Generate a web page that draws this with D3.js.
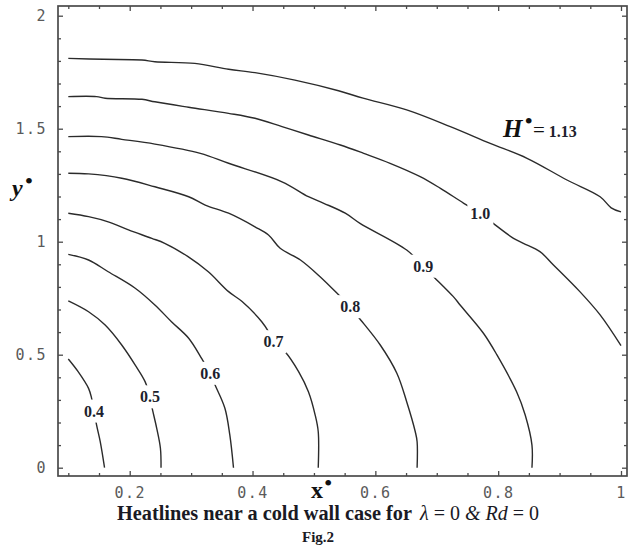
<!DOCTYPE html>
<html>
<head>
<meta charset="utf-8">
<script src="https://cdn.jsdelivr.net/npm/d3@7"></script>
<style>
  body { margin: 0; background: #fff; }
  svg { display: block; }
</style>
</head>
<body>
<svg id="chart" width="632" height="546"></svg>
<script>
// Heatline levels H* and traced points (x*, y*) for each line
const levelText = ["0.4", "0.5", "0.6", "0.7", "0.8", "0.9", "1.0"];

const h040 = [[0.100,0.481],[0.116,0.425],[0.133,0.351],[0.138,0.307],[0.142,0.251],[0.146,0.189],[0.152,0.115],[0.159,0.000]];
const h050 = [[0.100,0.738],[0.133,0.690],[0.160,0.631],[0.187,0.543],[0.209,0.454],[0.225,0.381],[0.233,0.314],[0.236,0.270],[0.244,0.174],[0.250,0.086],[0.251,0.000]];
const h060 = [[0.100,0.944],[0.133,0.919],[0.165,0.867],[0.209,0.794],[0.241,0.720],[0.268,0.646],[0.296,0.573],[0.317,0.484],[0.331,0.418],[0.339,0.366],[0.355,0.263],[0.363,0.145],[0.369,0.000]];
const h070 = [[0.100,1.126],[0.133,1.111],[0.165,1.088],[0.198,1.052],[0.236,1.015],[0.257,0.993],[0.295,0.934],[0.328,0.867],[0.361,0.779],[0.383,0.735],[0.415,0.646],[0.426,0.602],[0.434,0.558],[0.453,0.513],[0.475,0.425],[0.491,0.336],[0.502,0.233],[0.507,0.159],[0.507,0.000]];
const h080 = [[0.100,1.303],[0.133,1.300],[0.187,1.281],[0.241,1.243],[0.296,1.199],[0.323,1.162],[0.361,1.126],[0.404,1.066],[0.426,1.030],[0.445,0.971],[0.478,0.919],[0.510,0.845],[0.543,0.757],[0.559,0.713],[0.572,0.668],[0.608,0.543],[0.635,0.418],[0.651,0.292],[0.665,0.159],[0.668,0.115],[0.668,0.000]];
const h090 = [[0.100,1.465],[0.154,1.465],[0.187,1.453],[0.241,1.432],[0.315,1.391],[0.361,1.347],[0.448,1.265],[0.491,1.199],[0.516,1.170],[0.551,1.126],[0.575,1.081],[0.651,0.963],[0.678,0.892],[0.692,0.853],[0.727,0.757],[0.738,0.720],[0.776,0.595],[0.798,0.499],[0.830,0.336],[0.844,0.233],[0.855,0.100],[0.855,0.000]];
const h100 = [[0.100,1.642],[0.146,1.642],[0.160,1.635],[0.220,1.630],[0.241,1.619],[0.296,1.595],[0.361,1.568],[0.404,1.546],[0.448,1.509],[0.491,1.472],[0.543,1.428],[0.581,1.391],[0.624,1.347],[0.673,1.288],[0.706,1.236],[0.744,1.170],[0.771,1.126],[0.792,1.081],[0.825,1.015],[0.841,0.993],[0.868,0.956],[0.890,0.897],[0.933,0.779],[0.966,0.676],[1.000,0.540]];
const h113 = [[0.100,1.811],[0.157,1.807],[0.220,1.804],[0.241,1.796],[0.306,1.789],[0.361,1.763],[0.404,1.748],[0.469,1.715],[0.540,1.668],[0.580,1.635],[0.651,1.583],[0.722,1.509],[0.787,1.435],[0.847,1.369],[0.912,1.273],[0.966,1.199],[0.984,1.150],[1.000,1.132]];

// where each level's value is written on its line
const labelPoints = [[0.142,0.251],[0.233,0.314],[0.331,0.418],[0.434,0.558],[0.559,0.713],[0.678,0.892],[0.771,1.126]];
// outer line annotation anchor (x*, y*)
const outerLevel = "1.13";
const outerAnchor = [0.808, 1.463];

const xMajor = [0.2, 0.4, 0.6, 0.8, 1];
const xMajorText = ["0.2", "0.4", "0.6", "0.8", "1"];
const yMajor = [0, 0.5, 1, 1.5, 2];
const yMajorText = ["0", "0.5", "1", "1.5", "2"];

const curves = [h040, h050, h060, h070, h080, h090, h100, h113];

const svg = d3.select("#chart");
const frame = { left: 58, right: 627, top: 6, bottom: 476 };

const x = d3.scaleLinear().domain([0.1, 1]).range([68.3, 621]);
const y = d3.scaleLinear().domain([0, 2]).range([467.7, 15.7]);

const xMinor = d3.range(0.1, 1.0001, 0.05).filter(v => !xMajor.some(m => Math.abs(m - v) < 1e-6));
const yMinor = d3.range(0.1, 2.0001, 0.1).filter(v => !yMajor.some(m => Math.abs(m - v) < 1e-6));

const frameColor = "#4a4a4a";
const tickFont = "'DejaVu Sans Mono', monospace";
const serif = "'Liberation Serif', 'Times New Roman', serif";

// heatlines
const line = d3.line().x(d => x(d[0])).y(d => y(d[1])).curve(d3.curveCatmullRom.alpha(0.5));
svg.append("g").selectAll("path").data(curves).join("path")
  .attr("d", line)
  .attr("fill", "none")
  .attr("stroke", "#2b2b2b")
  .attr("stroke-width", 1.4);

// inline level labels with a white gap cut into the line
const lab = svg.append("g").selectAll("g").data(labelPoints).join("g")
  .attr("transform", d => `translate(${x(d[0])},${y(d[1])})`);
lab.append("rect").attr("fill", "#fff");
lab.append("text")
  .text((d, i) => levelText[i])
  .attr("text-anchor", "middle")
  .attr("dy", "0.35em")
  .attr("font-family", serif)
  .attr("font-weight", "bold")
  .attr("font-size", 16)
  .attr("fill", "#1d1f2e");
lab.each(function () {
  const g = d3.select(this);
  const b = g.select("text").node().getBBox();
  g.select("rect")
    .attr("x", b.x - 3).attr("y", b.y - 3)
    .attr("width", b.width + 6).attr("height", b.height + 6);
});

// frame
svg.append("rect")
  .attr("x", frame.left).attr("y", frame.top)
  .attr("width", frame.right - frame.left).attr("height", frame.bottom - frame.top)
  .attr("fill", "none").attr("stroke", frameColor).attr("stroke-width", 1.7);

function styleAxis(g) {
  g.select(".domain").remove();
  g.selectAll(".tick line").attr("stroke", frameColor).attr("stroke-width", 1.3);
  g.selectAll(".tick text")
    .attr("font-family", tickFont)
    .attr("font-size", 15)
    .attr("letter-spacing", "1.5px")
    .attr("fill", "#5a5a5a");
}

// bottom / top
svg.append("g").attr("transform", `translate(0,${frame.bottom})`)
  .call(d3.axisBottom(x).tickValues(xMinor).tickSize(-3).tickFormat("")).call(styleAxis);
svg.append("g").attr("transform", `translate(0,${frame.bottom})`)
  .call(d3.axisBottom(x).tickValues(xMajor).tickSize(-5).tickPadding(11)
    .tickFormat((d, i) => xMajorText[i])).call(styleAxis);
svg.append("g").attr("transform", `translate(0,${frame.top})`)
  .call(d3.axisTop(x).tickValues(xMinor).tickSize(-3).tickFormat("")).call(styleAxis);
svg.append("g").attr("transform", `translate(0,${frame.top})`)
  .call(d3.axisTop(x).tickValues(xMajor).tickSize(-5).tickFormat("")).call(styleAxis);

// left / right
svg.append("g").attr("transform", `translate(${frame.left},0)`)
  .call(d3.axisLeft(y).tickValues(yMinor).tickSize(-3).tickFormat("")).call(styleAxis);
svg.append("g").attr("transform", `translate(${frame.left},0)`)
  .call(d3.axisLeft(y).tickValues(yMajor).tickSize(-5).tickPadding(11)
    .tickFormat((d, i) => yMajorText[i])).call(styleAxis);
svg.append("g").attr("transform", `translate(${frame.right},0)`)
  .call(d3.axisRight(y).tickValues(yMinor).tickSize(-3).tickFormat("")).call(styleAxis);
svg.append("g").attr("transform", `translate(${frame.right},0)`)
  .call(d3.axisRight(y).tickValues(yMajor).tickSize(-5).tickFormat("")).call(styleAxis);

// outer heatline annotation: H* = 1.13
const ann = svg.append("text")
  .attr("x", x(outerAnchor[0])).attr("y", y(outerAnchor[1]))
  .attr("font-family", serif)
  .attr("fill", "#111");
ann.append("tspan").text("H").attr("font-weight", "bold").attr("font-style", "italic").attr("font-size", 25);
ann.append("tspan").text("•").attr("font-size", 24).attr("dy", -8).attr("dx", 2);
ann.append("tspan").text("=").attr("font-size", 21).attr("dy", 8).attr("dx", 0);
ann.append("tspan").text(" " + outerLevel).attr("font-weight", "bold").attr("font-size", 16).attr("fill", "#1d1f2e");

// axis titles
const xt = svg.append("text").attr("x", 311).attr("y", 498)
  .attr("font-family", serif).attr("fill", "#111");
xt.append("tspan").text("x").attr("font-weight", "bold").attr("font-size", 24);
xt.append("tspan").text("•").attr("font-size", 24).attr("dy", -7).attr("dx", 1);

const yt = svg.append("text").attr("x", 12).attr("y", 196)
  .attr("font-family", serif).attr("fill", "#111");
yt.append("tspan").text("y").attr("font-weight", "bold").attr("font-style", "italic").attr("font-size", 24);
yt.append("tspan").text("•").attr("font-size", 24).attr("dy", -7).attr("dx", 2);

// caption
svg.append("text").attr("x", 117).attr("y", 520)
  .attr("font-family", serif).attr("font-weight", "bold")
  .attr("font-size", 20).attr("fill", "#1a1a24")
  .attr("textLength", 295).attr("lengthAdjust", "spacingAndGlyphs")
  .text("Heatlines near a cold wall case for");

const cond = svg.append("text").attr("x", 420).attr("y", 520)
  .attr("font-family", serif).attr("font-size", 20).attr("fill", "#1a1a24");
cond.append("tspan").text("λ").attr("font-style", "italic");
cond.append("tspan").text(" = 0 ");
cond.append("tspan").text("& Rd").attr("font-style", "italic");
cond.append("tspan").text(" = 0");

svg.append("text").attr("x", 302).attr("y", 542)
  .attr("font-family", serif).attr("font-weight", "bold")
  .attr("font-size", 15).attr("fill", "#1a1a24")
  .text("Fig.2");
</script>
</body>
</html>
